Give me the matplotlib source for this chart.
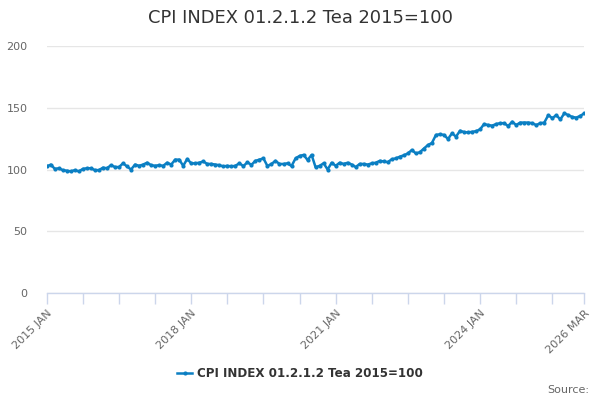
import matplotlib
matplotlib.use("Agg")
import matplotlib.pyplot as plt
import numpy as np

title = "CPI INDEX 01.2.1.2 Tea 2015=100"
series_name = "CPI INDEX 01.2.1.2 Tea 2015=100"
start_year = 2015
n_months_label = ["JAN", "FEB", "MAR", "APR", "MAY", "JUN", "JUL", "AUG", "SEP", "OCT", "NOV", "DEC"]

values = [
    # 2015
    102.5, 104, 100.5, 101, 99.5, 99, 98.5, 99.5, 98.5, 100.5, 101, 101,
    # 2016
    99.5, 99.5, 101.5, 101, 103.5, 102, 102, 105, 102.5, 100, 104, 103,
    # 2017
    104, 105.5, 103.5, 103, 103.5, 103, 105.5, 104, 108, 108, 103, 108.5,
    # 2018
    105, 105, 105.5, 106.5, 104.5, 104.5, 104, 103.5, 102.5, 103, 102.5, 103,
    # 2019
    105, 102.8, 105.8, 103.8, 107, 108, 109, 102.8, 104.5, 107, 104.5, 104.5,
    # 2020
    105, 102.8, 109, 111, 111.8, 107.7, 111.8, 101.8, 103, 105, 100, 105.5,
    # 2021
    103, 105.5, 104.5, 105.5, 104, 102, 104.5, 104.5, 104, 105, 105.5, 107,
    # 2022
    106.5, 106, 108.3, 109, 110.4, 111.5, 113, 115.8, 113, 114, 117, 119.8,
    # 2023
    121.5, 128, 128.5, 128, 124.7, 129.3, 126.6, 131.4, 130.3, 130, 130.5, 131,
    # 2024
    132.5, 136.8, 136, 135.5, 136.8, 137.5, 137.5, 135.2, 138.7, 136, 138, 138,
    # 2025
    138, 137.5, 136, 137.5, 138, 144, 141.6, 144, 140.5, 145.5, 144, 142.5,
    # 2026
    142, 143.5, 145.5,
]

labels = []
for i in range(len(values)):
    labels.append(f"{start_year + i // 12} {n_months_label[i % 12]}")

x = np.arange(len(values))
label_idx = [0, 36, 72, 108, len(values) - 1]
tick_idx = list(range(0, len(values) - 1, 9)) + [len(values) - 1]

line_color = "#0b7fc3"
axis_color = "#ccd6eb"
text_color = "#666666"

fig = plt.figure(figsize=(6, 4), dpi=100)
ax = fig.add_axes([0.078, 0.2675, 0.896, 0.6175])

ax.plot(x, values, color=line_color, lw=1.8, marker="o", ms=3.0,
        markeredgewidth=0, label=series_name)

ax.set_xlim(0, len(values) - 1)
ax.set_ylim(0, 200)
ax.set_yticks([0, 50, 100, 150, 200])
ax.grid(axis="y", color="#e6e6e6", lw=1)
ax.set_axisbelow(True)

for s in ["top", "right", "left"]:
    ax.spines[s].set_visible(False)
ax.spines["bottom"].set_color(axis_color)
ax.spines["bottom"].set_linewidth(1)

ax.set_xticks(tick_idx, minor=True)
ax.set_xticks(label_idx)
ax.set_xticklabels([labels[i] for i in label_idx], rotation=45, ha="right",
                   rotation_mode="anchor", fontsize=8, color=text_color)
ax.tick_params(axis="x", which="both", length=8, color=axis_color, width=1, pad=3)
ax.tick_params(axis="y", length=0, labelsize=8, labelcolor=text_color, pad=14)

fig.text(0.5, 0.955, title, ha="center", va="center", fontsize=12.9, color="#333333")

leg = fig.legend(loc="center", bbox_to_anchor=(0.5, 0.067), frameon=False,
                 fontsize=8.6, handlelength=1.3, handletextpad=0.4)
for t in leg.get_texts():
    t.set_color("#333333")
    t.set_fontweight("bold")

fig.text(0.982, 0.025, "Source:", ha="right", va="center", fontsize=8, color=text_color)

fig.savefig("out.png", dpi=100)
